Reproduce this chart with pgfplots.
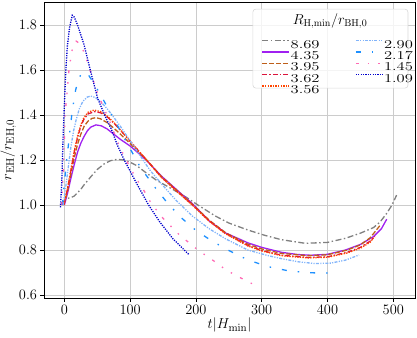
\documentclass[border=0pt]{standalone}
\usepackage{graphicx}
\usepackage{pgfplots}
\pgfplotsset{compat=1.18}
\definecolor{cgray}{RGB}{128,128,128}
\definecolor{cpurple}{RGB}{160,32,240}
\definecolor{cbrown}{RGB}{190,95,25}
\definecolor{ccrimson}{RGB}{220,20,60}
\definecolor{corange}{RGB}{255,69,0}
\definecolor{clblue}{RGB}{130,180,250}
\definecolor{cdodger}{RGB}{30,144,255}
\definecolor{cpink}{RGB}{255,105,180}
\definecolor{cblue}{RGB}{0,0,205}
\newcommand{\legtxt}[1]{\scalebox{1.38}[1]{#1}}
\begin{document}
\begin{tikzpicture}
\useasboundingbox (-44pt,-39pt) rectangle (373pt,298pt);
\pgfplotsset{
 sgray/.style={color=cgray, line width=1.3pt, dash pattern=on 6pt off 2.5pt on 1.5pt off 2.5pt},
 spurple/.style={color=cpurple, line width=1.3pt},
 sbrown/.style={color=cbrown, line width=1.3pt, dash pattern=on 5pt off 2pt},
 scrimson/.style={color=ccrimson, line width=1.3pt, dash pattern=on 5pt off 2pt on 1.5pt off 2pt},
 sorange/.style={color=corange, line width=1.3pt, dash pattern=on 1.3pt off 1.3pt},
 slblue/.style={color=clblue, line width=1.3pt, dash pattern=on 3pt off 1.3pt on 1.2pt off 1.3pt on 1.2pt off 1.3pt},
 sdodger/.style={color=cdodger, line width=1.3pt, dash pattern=on 5pt off 11pt on 1.5pt off 11pt},
 spink/.style={color=cpink, line width=1.3pt, dash pattern=on 3pt off 9pt on 1.5pt off 9pt on 1.5pt off 9pt},
 sblue/.style={color=cblue, line width=1.3pt, dash pattern=on 1.2pt off 1.2pt},
}
\begin{axis}[
 scale only axis, width=371pt, height=296pt,
 xmin=-31, xmax=533, ymin=0.587, ymax=1.902,
 xtick={0,100,...,500}, ytick={0.6,0.8,...,1.81},
 yticklabel style={/pgf/number format/fixed,/pgf/number format/precision=1,/pgf/number format/fixed zerofill},
 tick label style={font=\fontsize{14}{16}\selectfont},
 label style={font=\fontsize{15}{17}\selectfont},
 xlabel={$t|H_{\mathrm{min}}|$}, ylabel={$r_{\mathrm{EH}}/r_{\mathrm{EH},0}$},
 xlabel style={yshift=3pt},
 ylabel style={yshift=-4pt},
 grid=major, major grid style={color=black!20, line width=0.7pt},
 tick align=outside, xtick pos=bottom, ytick pos=left,
 major tick length=3.5pt, tick style={black, line width=0.6pt},
 axis line style={black, line width=0.8pt},
 legend columns=2,
 legend style={draw=none, fill=none, inner sep=0pt, outer sep=0pt,
   at={(rel axis cs:0.587,0.872)}, anchor=north west,
   font=\fontsize{12}{9}\selectfont, row sep=2.4pt,
   nodes={inner sep=0.6pt, text height=7.7pt, text depth=0pt},
   /tikz/every even column/.append style={column sep=35pt}},
 legend cell align=left,
 legend image code/.code={\draw[#1] (0pt,3.85pt) -- (27pt,3.85pt);},
]
\addlegendimage{sgray}\addlegendentry{\legtxt{8.69}}
\addlegendimage{slblue}\addlegendentry{\legtxt{2.90}}
\addlegendimage{spurple}\addlegendentry{\legtxt{4.35}}
\addlegendimage{sdodger}\addlegendentry{\legtxt{2.17}}
\addlegendimage{sbrown}\addlegendentry{\legtxt{3.95}}
\addlegendimage{spink}\addlegendentry{\legtxt{1.45}}
\addlegendimage{scrimson}\addlegendentry{\legtxt{3.62}}
\addlegendimage{sblue}\addlegendentry{\legtxt{1.09}}
\addlegendimage{sorange}\addlegendentry{\legtxt{3.56}}

% 8.69
\addplot[sgray, forget plot] coordinates {(-4,1.005)(0,1.02)(5,1.03)(10,1.033)(15,1.04)(20,1.055)(25,1.07)(30,1.09)(40,1.125)(50,1.158)(60,1.182)(70,1.197)(80,1.203)(90,1.2)(100,1.19)(110,1.175)(122,1.148)(140,1.11)(162,1.074)(185,1.035)(203,1.0)(229,0.952)(250,0.92)(279,0.889)(305,0.865)(330,0.846)(366,0.83)(400,0.834)(427,0.852)(450,0.875)(470,0.9)(480,0.925)(490,0.963)(498,1.0)(505,1.044)};
% 4.35
\addplot[spurple, forget plot] coordinates {(0,1.0)(5,1.055)(10,1.12)(15,1.18)(20,1.235)(25,1.275)(30,1.305)(35,1.33)(40,1.346)(48,1.356)(56,1.352)(65,1.338)(75,1.315)(85,1.292)(100,1.262)(112,1.232)(125,1.198)(147,1.13)(173,1.062)(195,1.005)(220,0.93)(245,0.876)(279,0.832)(300,0.812)(330,0.79)(355,0.78)(375,0.777)(400,0.781)(427,0.80)(450,0.825)(470,0.86)(482,0.895)(490,0.937)};
% 3.95
\addplot[sbrown, forget plot] coordinates {(-1,1.0)(5,1.065)(10,1.14)(15,1.21)(20,1.27)(25,1.315)(30,1.35)(36,1.373)(42,1.385)(48,1.388)(55,1.383)(65,1.366)(75,1.342)(85,1.315)(100,1.273)(125,1.2)(147,1.128)(173,1.06)(195,1.002)(220,0.933)(245,0.877)(279,0.826)(300,0.805)(330,0.785)(370,0.775)(400,0.779)(430,0.8)(450,0.823)(465,0.855)(480,0.91)};
% 3.62
\addplot[scrimson, forget plot] coordinates {(-1,1.0)(5,1.075)(10,1.155)(15,1.235)(20,1.3)(25,1.35)(30,1.383)(36,1.405)(46,1.415)(55,1.41)(65,1.392)(75,1.365)(85,1.333)(100,1.283)(125,1.2)(147,1.125)(173,1.057)(195,1.0)(220,0.93)(245,0.874)(279,0.82)(300,0.798)(330,0.777)(370,0.767)(400,0.77)(430,0.79)(450,0.812)(465,0.84)(472,0.86)};
% 3.56
\addplot[sorange, forget plot] coordinates {(-1,1.0)(5,1.078)(10,1.16)(15,1.24)(20,1.307)(25,1.357)(30,1.39)(36,1.412)(45,1.422)(55,1.415)(65,1.395)(75,1.367)(85,1.334)(100,1.283)(125,1.2)(147,1.124)(173,1.055)(195,0.998)(220,0.928)(245,0.872)(279,0.818)(300,0.796)(330,0.775)(370,0.765)(400,0.768)(430,0.787)(450,0.808)(465,0.835)(470,0.855)};
% 2.90
\addplot[slblue, forget plot] coordinates {(-2,1.0)(2,1.08)(6,1.17)(10,1.26)(14,1.33)(18,1.38)(23,1.43)(28,1.46)(35,1.48)(40,1.484)(47,1.478)(55,1.46)(65,1.428)(75,1.39)(85,1.35)(100,1.285)(115,1.22)(130,1.155)(147,1.096)(170,1.02)(195,0.95)(220,0.895)(245,0.85)(279,0.80)(310,0.775)(330,0.762)(355,0.748)(381,0.74)(405,0.742)(427,0.755)(448,0.778)};
% 2.17
\addplot[sdodger, forget plot] coordinates {(-3,1.0)(0,1.1)(4,1.21)(8,1.32)(12,1.42)(17,1.51)(22,1.565)(28,1.59)(35,1.585)(45,1.54)(58,1.474)(70,1.41)(85,1.33)(100,1.25)(115,1.17)(137,1.081)(155,1.015)(175,0.95)(201,0.885)(226,0.837)(252,0.795)(279,0.756)(310,0.726)(340,0.708)(371,0.699)(401,0.698)};
% 1.45
\addplot[spink, forget plot] coordinates {(-4,1.0)(-1,1.2)(1,1.4)(4,1.5)(7,1.6)(11,1.68)(15,1.72)(18,1.728)(22,1.72)(27,1.70)(35,1.635)(43,1.563)(50,1.5)(58,1.444)(68,1.378)(81,1.28)(92,1.21)(104,1.145)(115,1.09)(122,1.059)(132,1.007)(150,0.941)(175,0.867)(203,0.80)(229,0.748)(246,0.711)(274,0.667)(290,0.644)};
% 1.09
\addplot[sblue, forget plot] coordinates {(-6,0.99)(-4,1.1)(-2,1.3)(0,1.45)(2,1.59)(4.6,1.71)(8,1.79)(12,1.843)(15,1.835)(20,1.8)(30,1.711)(40,1.592)(51,1.47)(65,1.375)(71,1.34)(80,1.27)(91,1.2)(110,1.095)(128,1.0)(145,0.925)(165,0.85)(190,0.778)};

\draw[rounded corners=3pt, draw=black!15, fill=white, fill opacity=0.8, line width=0.6pt] (rel axis cs:0.563,0.976) rectangle (rel axis cs:0.981,0.709);
\node[font=\fontsize{14}{16}\selectfont] at (rel axis cs:0.771,0.935) {$R_{\mathrm{H,min}}/r_{\mathrm{BH},0}$};
\end{axis}
\end{tikzpicture}
\end{document}
